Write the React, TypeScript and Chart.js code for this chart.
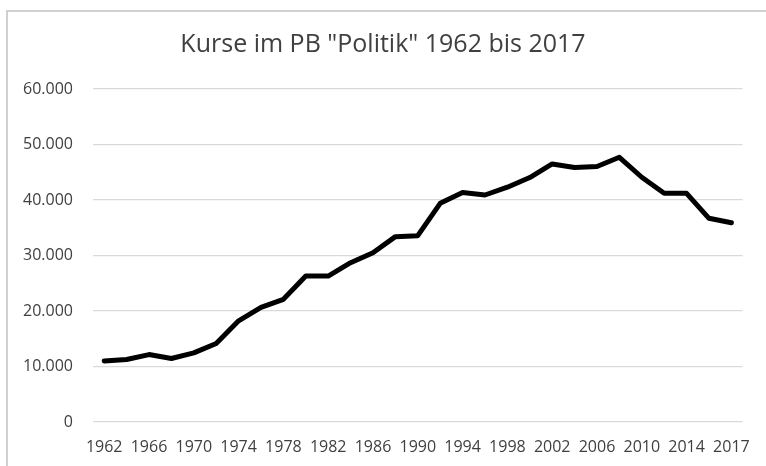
import React, { useEffect, useRef } from "react";
import { Chart, registerables } from "chart.js";

Chart.register(...registerables);

const years: string[] = [
  "1962", "1964", "1966", "1968", "1970", "1972", "1974", "1976", "1978", "1980",
  "1982", "1984", "1986", "1988", "1990", "1992", "1994", "1996", "1998", "2000",
  "2002", "2004", "2006", "2008", "2010", "2012", "2014", "2016", "2017",
];

const kurse: number[] = [
  11000, 11250, 12150, 11450, 12450, 14150, 18230, 20650, 22100, 26300,
  26300, 28700, 30500, 33400, 33570, 39400, 41340, 40900, 42300, 44050,
  46500, 45850, 46030, 47700, 44100, 41200, 41200, 36700, 35900,
];

const titleText = 'Kurse im PB "Politik" 1962 bis 2017';
const yMax = 60000;
const yStep = 10000;

const fmt = (v: number) => {
  const s = Math.round(v).toString();
  return s.replace(/\B(?=(\d{3})+(?!\d))/g, ".");
};

const borderPlugin = {
  id: "outerBorder",
  beforeDraw(chart: any) {
    const ctx = chart.ctx;
    ctx.save();
    ctx.strokeStyle = "#d0d0d0";
    ctx.lineWidth = 2;
    ctx.beginPath();
    ctx.moveTo(7, chart.height + 5);
    ctx.lineTo(7, 11);
    ctx.lineTo(chart.width + 5, 11);
    ctx.stroke();
    ctx.restore();
  },
};

export default function App() {
  const ref = useRef<HTMLCanvasElement | null>(null);
  useEffect(() => {
    if (!ref.current) return;
    const chart = new Chart(ref.current, {
      type: "line",
      data: {
        labels: years,
        datasets: [
          {
            data: kurse,
            borderColor: "#000000",
            borderWidth: 5,
            pointRadius: 0,
            tension: 0,
            fill: false,
            borderJoinStyle: "round",
            borderCapStyle: "round",
          },
        ],
      },
      options: {
        animation: false,
        responsive: false,
        maintainAspectRatio: false,
        layout: { padding: { left: 19, right: 19, top: 0, bottom: 0 } },
        plugins: {
          legend: { display: false },
          tooltip: { enabled: false },
          title: {
            display: true,
            text: titleText,
            color: "#404040",
            font: { family: "'Open Sans', sans-serif", size: 25, weight: "normal" },
            padding: { top: 30, bottom: 29 },
          },
        },
        scales: {
          x: {
            offset: true,
            grid: { display: false, drawTicks: false },
            border: { display: false },
            ticks: {
              autoSkip: false,
              maxRotation: 0,
              minRotation: 0,
              padding: 16,
              color: "#404040",
              font: { family: "'Open Sans', sans-serif", size: 16 },
              callback: (_v: any, i: number) => (i % 2 === 0 ? years[i] : ""),
            },
            afterFit: (s: any) => {
              s.height = 44;
            },
          },
          y: {
            min: 0,
            max: yMax,
            grid: { color: "#d9d9d9", lineWidth: 1.3, drawTicks: false },
            border: { display: false },
            ticks: {
              stepSize: yStep,
              padding: 20,
              color: "#404040",
              font: { family: "'Open Sans', sans-serif", size: 16 },
              callback: (v: any) => fmt(Number(v)),
            },
            afterFit: (s: any) => {
              s.width = 74;
            },
          },
        },
      },
      plugins: [borderPlugin],
    });
    return () => chart.destroy();
  }, []);
  return (
    <div style={{ position: "fixed", left: 0, top: 0, width: 766, height: 466, background: "#fff" }}>
      <canvas ref={ref} width={766} height={466} style={{ display: "block" }} />
    </div>
  );
}
